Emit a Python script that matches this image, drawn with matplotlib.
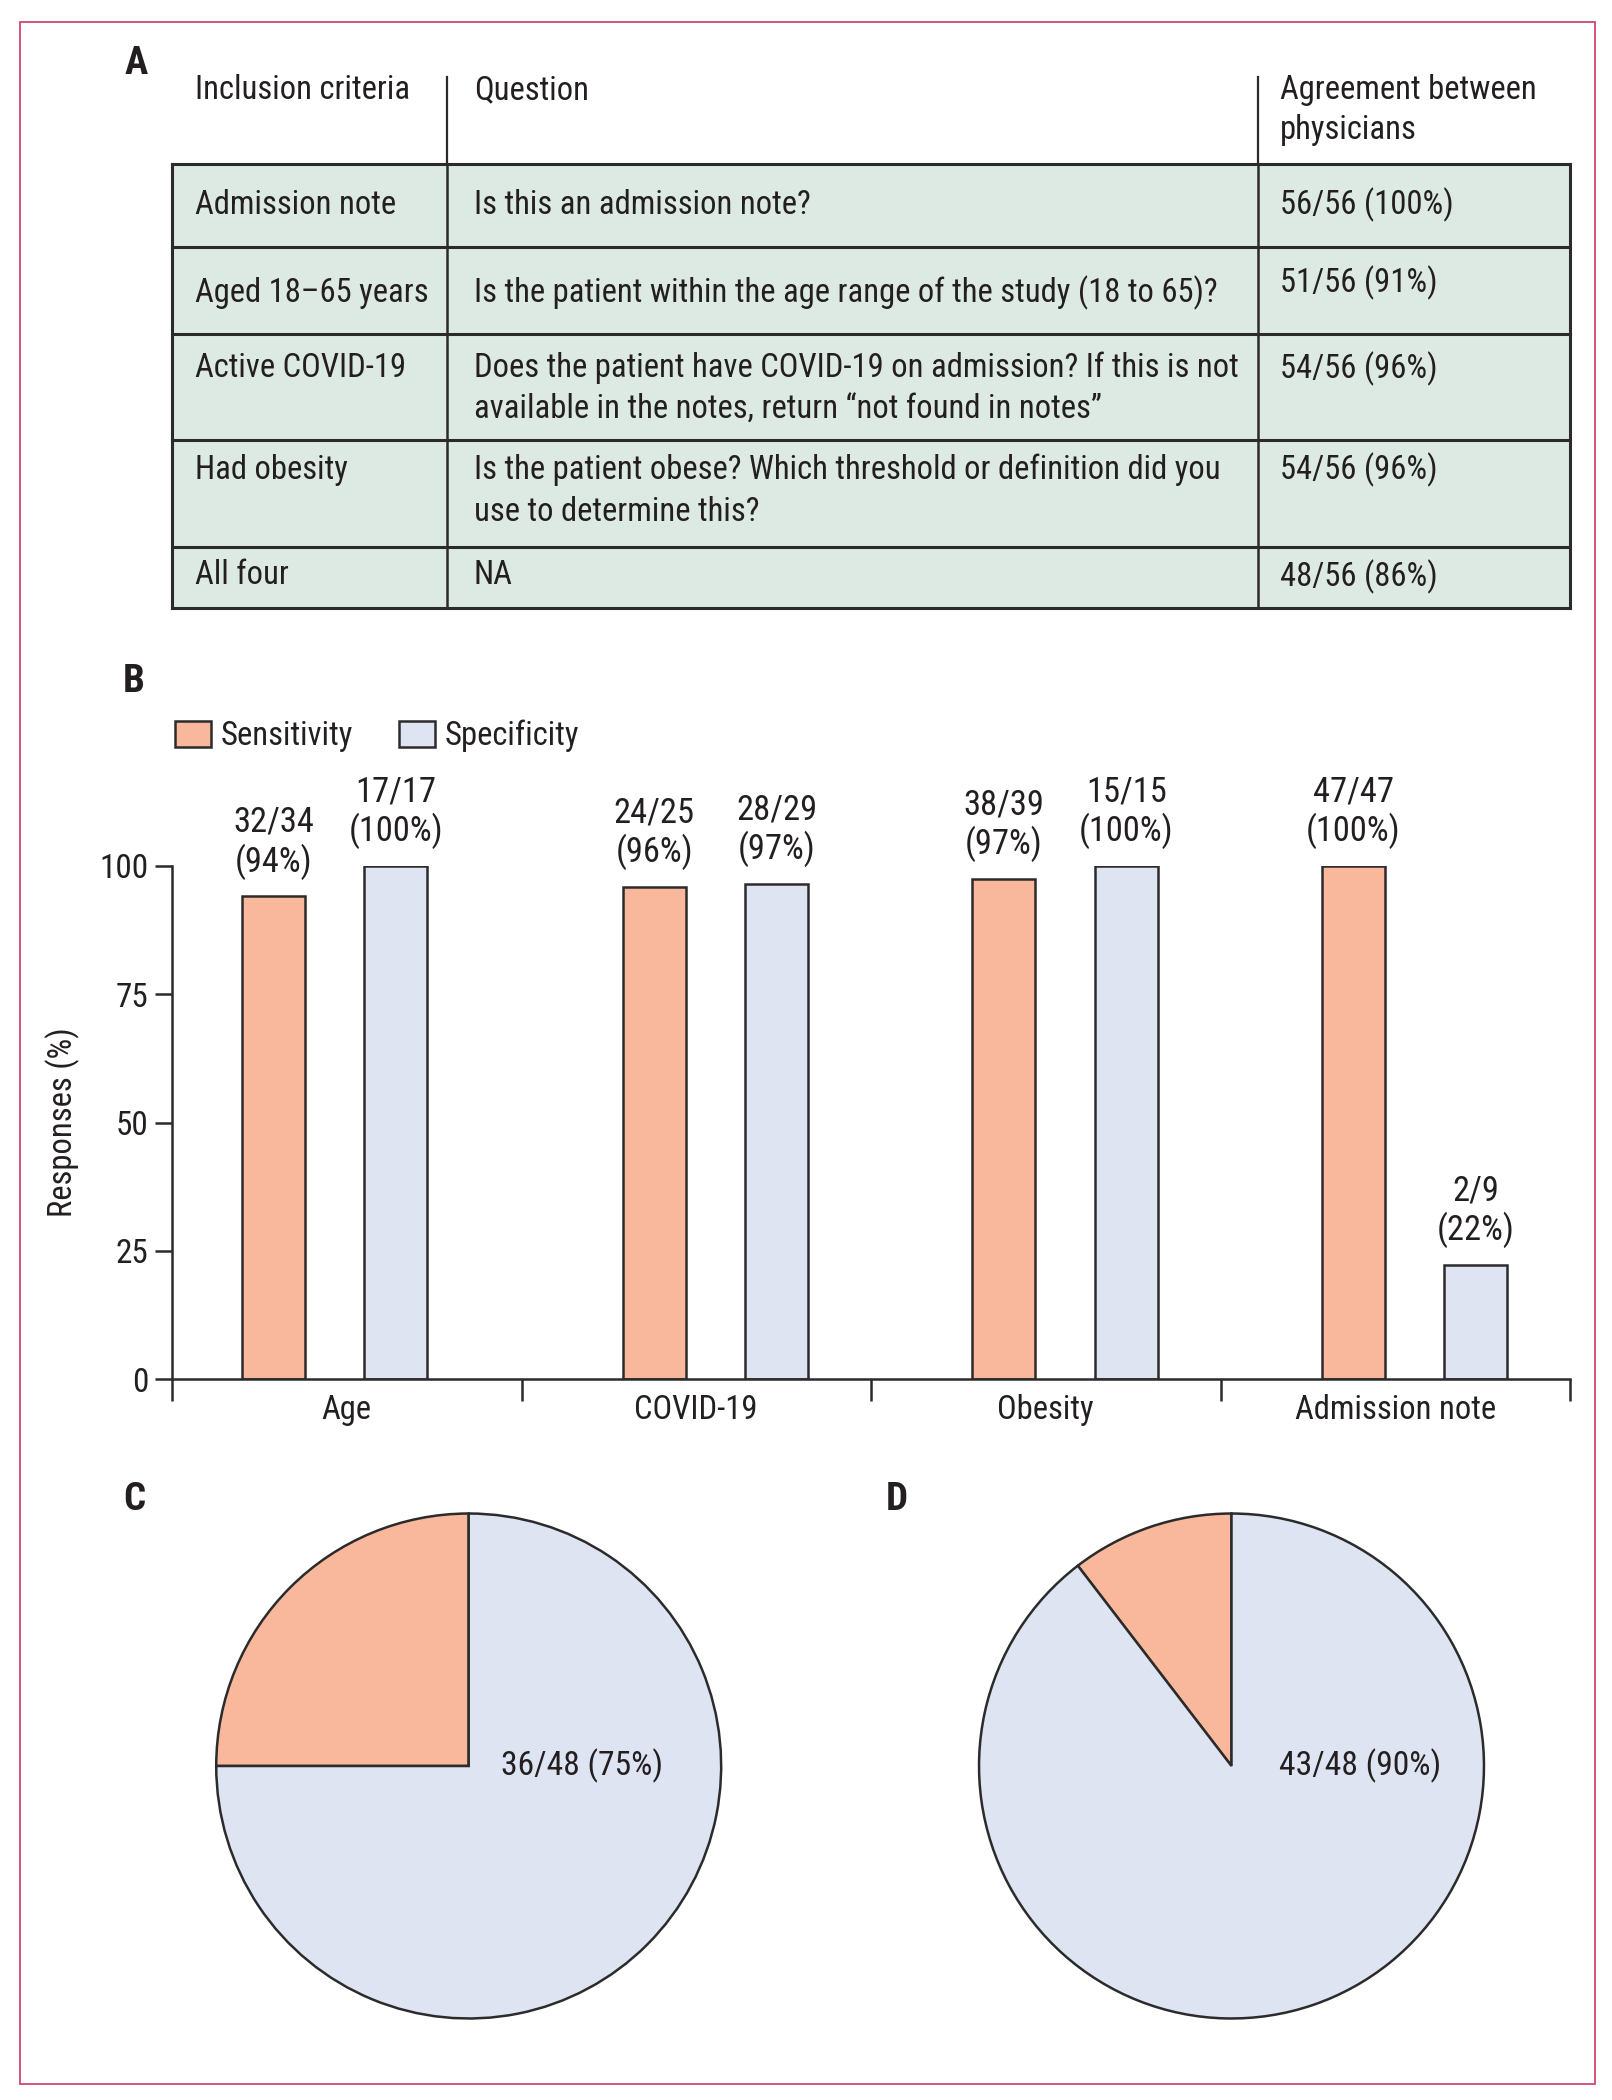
"""Recreate the four-panel figure: criteria table, sensitivity/specificity bars, two pies."""

import numpy as np
import matplotlib
matplotlib.use("Agg")
import matplotlib.pyplot as plt
from matplotlib import font_manager
from matplotlib.patches import Rectangle, Patch

# narrowest installed family first; the reference uses a condensed face
installed = {f.name for f in font_manager.fontManager.ttflist}
prefs = ["Liberation Sans Narrow", "Roboto Condensed", "Open Sans Condensed",
         "DejaVu Sans Condensed", "Lato", "Roboto", "Liberation Sans"]
family = next((p for p in prefs if p in installed), "DejaVu Sans")
plt.rcParams['font.family'] = [family, 'DejaVu Sans']

# ---- data -------------------------------------------------------------
table_header = ["Inclusion criteria", "Question", "Agreement between\nphysicians"]
criteria = ["Admission note", "Aged 18\u201365 years", "Active COVID-19", "Had obesity", "All four"]
questions = [
    "Is this an admission note?",
    "Is the patient within the age range of the study (18 to 65)?",
    "Does the patient have COVID-19 on admission? If this is not\n"
    "available in the notes, return \u201cnot found in notes\u201d",
    "Is the patient obese? Which threshold or definition did you\n"
    "use to determine this?",
    "NA",
]
agreement = ["56/56 (100%)", "51/56 (91%)", "54/56 (96%)", "54/56 (96%)", "48/56 (86%)"]

categories = ["Age", "COVID-19", "Obesity", "Admission note"]
sens_num = [32, 24, 38, 47]
sens_den = [34, 25, 39, 47]
spec_num = [17, 28, 15, 2]
spec_den = [17, 29, 15, 9]
series_names = ["Sensitivity", "Specificity"]
yticks = [0, 25, 50, 75, 100]

pie_c = [12, 36]
pie_c_label = "36/48 (75%)"
pie_d = [5, 43]
pie_d_label = "43/48 (90%)"

# ---- style ------------------------------------------------------------
ORANGE = "#F9B89C"
BLUE = "#DEE4F2"
GREEN = "#DDEAE3"
BORDER = "#D0486F"
TXT = "#231F20"
LINE = "#2B2B2B"

W, H = 1612, 2100
fig = plt.figure(figsize=(W / 100, H / 100), dpi=100)

# size the text so that the question of row 2 is as wide as in the reference (~744 px)
renderer = fig.canvas.get_renderer()
probe = fig.text(0, 0, questions[1], fontsize=26)
scale = min(1.0, 744 / probe.get_window_extent(renderer).width)
probe.remove()
FS = 26 * scale
FS_BAR = 27.5 * scale
FS_TICK = 26.5 * scale
FS_YLAB = 26 * scale


def px_axes(left, top, width, height):
    return fig.add_axes([left / W, 1 - (top + height) / H, width / W, height / H])


# canvas axes in pixel coordinates for the table, panel letters and frame
canvas = fig.add_axes([0, 0, 1, 1])
canvas.set_xlim(0, W)
canvas.set_ylim(H, 0)
canvas.axis("off")

canvas.add_patch(Rectangle((20, 22), 1575, 2062, fill=False, ec=BORDER, lw=1.3))

for letter, (lx, ly) in zip("ABCD", [(136, 63), (134, 682), (134, 1500), (897, 1500)]):
    canvas.text(lx, ly, letter, fontsize=28, fontweight="bold", color=TXT,
                ha="center", va="center")

# ---- panel A: table ---------------------------------------------------
tab_l, tab_r = 172, 1570
col_x = [tab_l, 447, 1258, tab_r]
row_y = [164, 247, 334, 440, 547, 608]
text_x = [195, 474, 1280]
line_gap = 42
first_line = [[205, 205, 205], [293, 293, 283], [368, 368, 369], [470, 470, 470], [575, 575, 577]]

canvas.add_patch(Rectangle((tab_l, row_y[0]), tab_r - tab_l, row_y[-1] - row_y[0],
                           fc=GREEN, ec="none", zorder=1))
for y in row_y:
    canvas.plot([tab_l, tab_r], [y, y], color=LINE, lw=2.2, zorder=2, solid_capstyle="projecting")
for x in col_x:
    canvas.plot([x, x], [row_y[0], row_y[-1]], color=LINE, lw=2.2 if x in (tab_l, tab_r) else 1.8,
                zorder=2, solid_capstyle="projecting")
for x in col_x[1:3]:
    canvas.plot([x, x], [77, row_y[0]], color=LINE, lw=1.6, zorder=2)

for j, head in enumerate(table_header):
    for k, line in enumerate(head.split("\n")):
        canvas.text(text_x[j], 90 + k * 40, line, fontsize=FS, color=TXT, ha="left", va="center")

for i in range(len(criteria)):
    cells = [criteria[i], questions[i], agreement[i]]
    for j, cell in enumerate(cells):
        for k, line in enumerate(cell.split("\n")):
            canvas.text(text_x[j], first_line[i][j] + k * line_gap, line, fontsize=FS,
                        color=TXT, ha="left", va="center", zorder=3)

# ---- panel B: bars ----------------------------------------------------
sens = np.array(sens_num) / np.array(sens_den) * 100
spec = np.array(spec_num) / np.array(spec_den) * 100

ax = px_axes(172, 866, 1398, 513)
idx = np.arange(len(categories))
group_shift = np.array([-0.09, 0, 0, 0])
bw = 0.18
sens_x = idx + 0.38 + group_shift
spec_x = idx + 0.73 + group_shift

ax.bar(sens_x, sens, bw, color=ORANGE, edgecolor=LINE, lw=1.8, zorder=2)
ax.bar(spec_x, spec, bw, color=BLUE, edgecolor=LINE, lw=1.8, zorder=2)

for xs, vals, nums, dens in [(sens_x, sens, sens_num, sens_den), (spec_x, spec, spec_num, spec_den)]:
    for x, v, n, d in zip(xs, vals, nums, dens):
        ax.annotate(f"{n}/{d}\n({round(v):d}%)", (x, v), xytext=(0, 12),
                    textcoords="offset points", ha="center", va="bottom",
                    fontsize=FS_BAR, color=TXT, linespacing=1.15, clip_on=False)

ax.set_xlim(0, len(categories))
ax.set_ylim(0, 100)
ax.spines[["top", "right"]].set_visible(False)
for s in ("left", "bottom"):
    ax.spines[s].set_color(LINE)
    ax.spines[s].set_linewidth(1.8)
ax.set_yticks(yticks)
ax.set_yticklabels([str(t) for t in yticks])
ax.tick_params(axis="y", length=12, width=1.8, color=LINE, labelsize=FS_TICK, labelcolor=TXT, pad=5)
ax.set_xticks(np.arange(len(categories) + 1))
ax.set_xticklabels([])
ax.tick_params(axis="x", which="major", length=16, width=1.8, color=LINE)
ax.set_xticks(idx + 0.5, minor=True)
ax.set_xticklabels(categories, minor=True)
ax.tick_params(axis="x", which="minor", length=0, labelsize=FS, labelcolor=TXT, pad=11)
ax.set_ylabel("Responses (%)", fontsize=FS_YLAB, color=TXT)
ax.yaxis.set_label_coords(-0.066, 0.5)

handles = [Patch(fc=ORANGE, ec=LINE, lw=1.8), Patch(fc=BLUE, ec=LINE, lw=1.8)]
fig.legend(handles, series_names, loc="center left", bbox_to_anchor=(175 / W, 1 - 736 / H),
           ncol=2, frameon=False, fontsize=FS, handlelength=36 / (FS * 1.39),
           handleheight=27 / (FS * 1.39), handletextpad=0.3, columnspacing=1.4,
           borderpad=0, borderaxespad=0, labelcolor=TXT)

# ---- panels C and D: pies --------------------------------------------
for cx, vals, label, lab_dx in [(468.7, pie_c, pie_c_label, 0.45), (1231.5, pie_d, pie_d_label, 0.51)]:
    r = 255
    pax = px_axes(cx - r, 1766 - r, 2 * r, 2 * r)
    pax.pie(vals, colors=[ORANGE, BLUE], startangle=90, counterclock=True,
            wedgeprops=dict(edgecolor=LINE, linewidth=1.8))
    pax.set_xlim(-1.01, 1.01)
    pax.set_ylim(-1.01, 1.01)
    pax.text(lab_dx, 0, label, fontsize=FS * 1.03, color=TXT, ha="center", va="center")

fig.savefig("out.png", dpi=100)
